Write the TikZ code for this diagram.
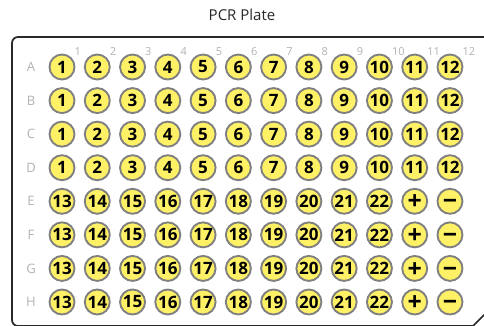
\documentclass[tikz,border=0pt]{standalone}
\usepackage{fontspec}
\setmainfont{Open Sans}
\begin{document}
\begin{tikzpicture}[x=1pt,y=-1pt,
  well/.style={circle,draw=wellgray,fill=wellyellow,line width=1.9pt,minimum size=25pt,inner sep=0pt,
    font=\fontsize{17}{17}\selectfont\bfseries,text=black},
  sign/.style={font=\fontsize{25}{25}\selectfont\bfseries},
  rowlbl/.style={font=\fontsize{13}{13}\selectfont,text=lblgray,inner sep=0pt},
  collbl/.style={font=\fontsize{11}{11}\selectfont,text=lblgray,inner sep=0pt,anchor=west},
  plate/.style={draw=platedark,line width=1.7pt},
  title/.style={font=\fontsize{15}{15}\selectfont,text=platedark,inner sep=0pt}]
\definecolor{wellyellow}{RGB}{255,241,102}
\definecolor{wellgray}{RGB}{128,128,128}
\definecolor{lblgray}{RGB}{178,178,178}
\definecolor{platedark}{RGB}{40,40,40}
\newcommand{\centred}[1]{\raisebox{-8.6pt}[0pt][0pt]{#1}}
\useasboundingbox (0,0) rectangle (484,325);
\clip (0,0) rectangle (484,325);
\node[title] (title) at (242,15) {PCR Plate};
\draw[plate,rounded corners=6pt] (474,326) -- (12,326) -- (12,37) -- (500,37);
\draw[plate] (469,330) -- (490,309);
\foreach \r [count=\i from 0] in {A,B,C,D,E,F,G,H}{
  \node[rowlbl] (row\r) at (31,{67+\i*33.57}) {\r};
}
\foreach \c in {1,...,12}{
  \node[collbl] (col\c) at ({62+(\c-1)*35.27+12.5},52) {\c};
}
\foreach \r [count=\i from 0] in {A,B,C,D}{
  \foreach \c in {1,...,12}{
    \node[well] (w\r\c) at ({62+(\c-1)*35.27},{67+\i*33.57}) {\c};
  }
}
\foreach \r [count=\i from 4] in {E,F,G,H}{
  \foreach \c [evaluate=\c as \n using int(\c+12)] in {1,...,10}{
    \node[well] (w\r\c) at ({62+(\c-1)*35.27},{67+\i*33.57}) {\n};
  }
  \node[well,sign] (w\r11) at ({62+10*35.27},{67+\i*33.57}) {\centred{+}};
  \node[well,sign] (w\r12) at ({62+11*35.27},{67+\i*33.57}) {\centred{−}};
}
\end{tikzpicture}
\end{document}
